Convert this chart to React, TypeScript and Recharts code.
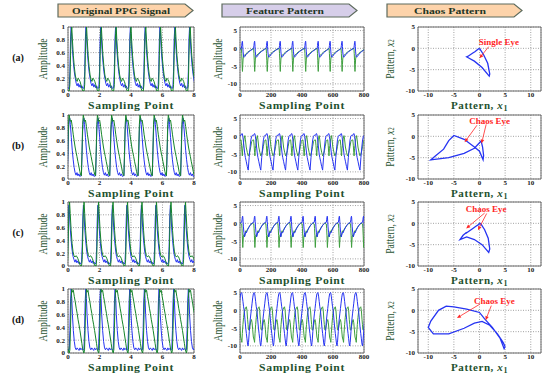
import React from 'react';
import {
  LineChart,
  Line,
  XAxis,
  YAxis,
  CartesianGrid,
  ReferenceArea,
  ReferenceLine,
  ReferenceDot,
  Label,
} from 'recharts';

type Pt = { x: number; y: number };

const SERIF = '"Liberation Serif", "DejaVu Serif", serif';
const BLUE = '#2634f2';
const GREEN_DARK = '#16852a';
const GREEN = '#3e9e3e';
const TITLE_GREEN = '#1f5230';
const RED = '#ff2626';

const rowTops = [27, 115, 202, 289];
const rowNames = ['(a)', '(b)', '(c)', '(d)'];
const headerNames = ['Original PPG Signal', 'Feature Pattern', 'Chaos Pattern'];
const headerLeft = [58, 222, 387];
const headerFill = ['#fdd3aa', '#d6cee9', '#fdd3aa'];
const headerTextLen = [98, 78, 72];

// ---- original PPG signal: one beat, sampled at these phases, placed at each beat onset
const ppgPhase = [0, 0.04, 0.08, 0.12, 0.16, 0.2, 0.26, 0.32, 0.38, 0.44, 0.5, 0.56, 0.62, 0.68, 0.74, 0.8, 0.86];

const ppgOnsetsA = [-0.86, 0.08, 1.02, 1.96, 2.9, 3.84, 4.78, 5.72, 6.66, 7.6];
const ppgBlueA = [0.05, 0.3, 0.8, 1, 0.85, 0.65, 0.45, 0.3, 0.2, 0.12, 0.08, 0.12, 0.06, 0.1, 0.05, 0.08, 0.04];
const ppgGreenA = [0, 0.1, 0.55, 0.9, 1, 0.8, 0.55, 0.38, 0.25, 0.18, 0.15, 0.2, 0.18, 0.15, 0.1, 0.04, 0];

const ppgOnsetsB = [-0.95, -0.05, 0.85, 1.75, 2.65, 3.55, 4.45, 5.35, 6.25, 7.15];
const ppgBlueB = [0.05, 0.35, 0.75, 0.9, 0.95, 0.85, 0.65, 0.45, 0.3, 0.18, 0.1, 0.06, 0.1, 0.05, 0.08, 0.04, 0.05];
const ppgGreenB = [0.05, 0.45, 0.85, 1, 0.95, 0.9, 0.92, 0.82, 0.7, 0.6, 0.5, 0.42, 0.35, 0.27, 0.2, 0.12, 0.06];

const ppgOnsetsC = [-0.98, -0.06, 0.86, 1.78, 2.7, 3.62, 4.54, 5.46, 6.38, 7.3];
const ppgBlueC = [0.05, 0.3, 0.75, 0.95, 0.8, 0.6, 0.4, 0.25, 0.15, 0.1, 0.06, 0.1, 0.05, 0.08, 0.04, 0.06, 0.03];
const ppgGreenC = [0, 0.1, 0.5, 0.88, 1, 0.82, 0.55, 0.35, 0.22, 0.16, 0.14, 0.16, 0.15, 0.12, 0.08, 0.03, 0];

const ppgOnsetsD = [-0.85, 0.08, 1.01, 1.94, 2.87, 3.8, 4.73, 5.66, 6.59, 7.52];
const ppgBlueD = [0.05, 0.35, 0.8, 1, 0.85, 0.6, 0.35, 0.18, 0.08, 0.05, 0.08, 0.06, 0.04, 0.08, 0.05, 0.07, 0.05];
const ppgGreenD = [0, 0.05, 0.4, 0.85, 1, 0.95, 0.98, 0.88, 0.8, 0.7, 0.62, 0.52, 0.44, 0.35, 0.25, 0.15, 0.05];

// ---- feature pattern: one cycle per panel, x1 (blue) and x2 (green)
const featPhaseA = [0, 2, 4, 6, 7, 9, 11, 14, 18, 22, 30, 40, 50, 60, 70];
const featOnsetsA = [-71, 9, 88, 169, 253, 334, 417, 498, 575, 652, 735];
const featBlueA = [0, 0.8, 1.6, 2.0, 1.9, 0.5, -1.0, -2.2, -2.5, -2.3, -1.8, -1.3, -0.9, -0.6, -0.3];
const featGreenA = [0, -1.5, -3.5, -6.0, -6.5, -4.5, -3.0, -2.2, -2.0, -1.9, -1.5, -1.1, -0.8, -0.5, -0.2];

const featPhaseB = [0, 3, 6, 8, 11, 14, 19, 24, 28, 33, 40, 46, 52, 58, 63, 68, 73];
const featOnsetsB = [-73, 7, 88, 167, 248, 327, 406, 487, 566, 647, 728];
const featBlueB = [0.3, 0.6, 0.8, 0.7, 0, -1, -3, -5, -6, -7, -8.5, -9.5, -6, -3, -1, 0, 0.3];
const featGreenB = [-1, -2.5, -4.5, -5.5, -3.5, -2.5, -0.7, 0.2, -1, -3, -4.5, -5.5, -5, -4, -2.8, -1.5, -1.1];

const featPhaseC = [0, 2, 4, 6, 7, 9, 11, 14, 18, 22, 26, 30, 36, 44, 52, 60, 68];
const featOnsetsC = [-67, 11, 89, 167, 245, 323, 401, 479, 557, 635, 713, 791];
const featBlueC = [0.3, 1, 1.7, 2, 1.8, 0.5, -1, -2.5, -3.8, -3.2, -2.5, -2.7, -2, -1.3, -0.7, -0.2, 0.1];
const featGreenC = [-0.2, -1.5, -3.5, -6, -6.8, -5, -3.8, -3.2, -3.8, -2.8, -2.1, -2.4, -1.8, -1.2, -0.7, -0.3, 0];

const featPhaseD = [0, 2, 5, 9, 13, 17, 22, 27, 31, 35, 39, 42, 45, 50, 55, 60, 64, 68, 72, 76];
const featOnsetsD = [-72, 10, 92, 174, 256, 338, 420, 502, 584, 666, 748];
const featBlueD = [5, 4.8, 4, 2.5, 1, 0, -2.5, -5, -6.5, -8, -9.5, -10, -9, -6, -3, -1, 0.5, 2, 3.5, 4.6];
const featGreenD = [-8.5, -9, -6.5, -4, -2, -0.5, 0.3, 0.8, 1, 0, -2.5, -4, -5.5, -5.5, -4.2, -3, -2.6, -3.5, -5.5, -7.5];

// annotation text / arrow positions (data units of each chaos panel)
const eyeText = ['Single Eye', 'Chaos Eye', 'Chaos Eye', 'Chaos Eye'];
const eyeTextPos = [[3.8, 1.6], [2.0, 3.6], [1.3, 3.5], [2.9, 2.3]];
const eyeArrows = [
  [[1.8, 0.4, 0, -2.3]],
  [[-0.5, 2.6, -2.9, -1.4], [1.3, 2.8, 0.4, -1.7]],
  [[1.0, 2.4, -2.6, -1.2], [1.4, 2.3, -0.3, -1.6]],
  [[0, 1.4, -4.4, -1.8], [2.3, 1.1, 1.2, -2.3]],
];

function tile(onsets: number[], phase: number[], vals: number[]): Pt[] {
  const pts: Pt[] = [];
  onsets.forEach((o) => phase.forEach((p, i) => pts.push({ x: o + p, y: vals[i] })));
  return pts;
}

function orbit(xs: number[], ys: number[]): Pt[] {
  const pts = xs.map((v, i) => ({ x: v, y: ys[i] }));
  return [...pts, pts[0]];
}

const ppg = [
  [tile(ppgOnsetsA, ppgPhase, ppgBlueA), tile(ppgOnsetsA, ppgPhase, ppgGreenA)],
  [tile(ppgOnsetsB, ppgPhase, ppgBlueB), tile(ppgOnsetsB, ppgPhase, ppgGreenB)],
  [tile(ppgOnsetsC, ppgPhase, ppgBlueC), tile(ppgOnsetsC, ppgPhase, ppgGreenC)],
  [tile(ppgOnsetsD, ppgPhase, ppgBlueD), tile(ppgOnsetsD, ppgPhase, ppgGreenD)],
];

const feat = [
  [tile(featOnsetsA, featPhaseA, featBlueA), tile(featOnsetsA, featPhaseA, featGreenA)],
  [tile(featOnsetsB, featPhaseB, featBlueB), tile(featOnsetsB, featPhaseB, featGreenB)],
  [tile(featOnsetsC, featPhaseC, featBlueC), tile(featOnsetsC, featPhaseC, featGreenC)],
  [tile(featOnsetsD, featPhaseD, featBlueD), tile(featOnsetsD, featPhaseD, featGreenD)],
];

const chaos = [
  orbit(featBlueA, featGreenA),
  orbit(featBlueB, featGreenB),
  orbit(featBlueC, featGreenC),
  orbit(featBlueD, featGreenD),
];

const tickStyle = { fontSize: 7, fontWeight: 700, fill: '#1a1a1a', fontFamily: SERIF };

function Arrow(props: any) {
  const { x1, y1, x2, y2 } = props;
  const a = Math.atan2(y2 - y1, x2 - x1);
  const bx = x2 - 4 * Math.cos(a);
  const by = y2 - 4 * Math.sin(a);
  const nx = -Math.sin(a) * 1.8;
  const ny = Math.cos(a) * 1.8;
  return (
    <g>
      <line x1={x1} y1={y1} x2={bx} y2={by} stroke={RED} strokeWidth={0.8} />
      <polygon points={`${x2},${y2} ${bx + nx},${by + ny} ${bx - nx},${by - ny}`} fill={RED} />
    </g>
  );
}

const MT = 4;
const XH = 22;

interface PlotProps {
  left: number;
  top: number;
  w: number;
  h: number;
  yw: number;
  mr: number;
  xDomain: [number, number];
  yDomain: [number, number];
  xTicks: number[];
  yTicks: number[];
  series: { data: Pt[]; color: string; width: number }[];
  xTitle: React.ReactNode;
  xTitleLen?: number;
  yTitle: React.ReactNode;
  yTitleX: number;
  extras?: React.ReactNode;
}

function Plot(p: PlotProps) {
  const chartLeft = p.left - p.yw;
  const cw = p.yw + p.w + p.mr;
  const ch = MT + p.h + XH;
  return (
    <div style={{ position: 'absolute', left: chartLeft, top: p.top - MT }}>
      <LineChart width={cw} height={ch} margin={{ top: MT, right: p.mr, bottom: 0, left: 0 }}>
        <CartesianGrid stroke="#8a8a8a" strokeDasharray="1 1.5" strokeWidth={0.8} />
        <XAxis
          type="number"
          dataKey="x"
          domain={p.xDomain}
          ticks={p.xTicks}
          interval={0}
          allowDataOverflow
          height={XH}
          tickSize={0}
          tickMargin={1}
          axisLine={false}
          tickLine={false}
          tick={tickStyle}
        >
          <Label
            content={() => (
              <text
                x={p.yw + p.w / 2}
                y={MT + p.h + 17.5}
                textAnchor="middle"
                fontFamily={SERIF}
                fontWeight={700}
                fontSize={11}
                fill={TITLE_GREEN}
                letterSpacing={0.6}
                textLength={p.xTitleLen}
                lengthAdjust="spacingAndGlyphs"
              >
                {p.xTitle}
              </text>
            )}
          />
        </XAxis>
        <YAxis
          type="number"
          domain={p.yDomain}
          ticks={p.yTicks}
          interval={0}
          allowDataOverflow
          width={p.yw}
          tickSize={0}
          tickMargin={3}
          axisLine={false}
          tickLine={false}
          tick={tickStyle}
        >
          <Label
            content={() => (
              <text
                transform={`translate(${p.yTitleX - chartLeft},${MT + p.h / 2}) rotate(-90) scale(0.8,1)`}
                textAnchor="middle"
                dominantBaseline="central"
                fontFamily={SERIF}
                fontSize={12}
                fill={TITLE_GREEN}
              >
                {p.yTitle}
              </text>
            )}
          />
        </YAxis>
        {p.series.map((s, i) => (
          <Line
            key={i}
            data={s.data}
            dataKey="y"
            type="linear"
            stroke={s.color}
            strokeWidth={s.width}
            dot={false}
            isAnimationActive={false}
          />
        ))}
        <ReferenceArea
          x1={p.xDomain[0]}
          x2={p.xDomain[1]}
          y1={p.yDomain[0]}
          y2={p.yDomain[1]}
          fill="none"
          stroke="#6a6a6a"
          strokeWidth={1}
          ifOverflow="visible"
        />
        {p.extras}
      </LineChart>
    </div>
  );
}

const patternX1 = (
  <>
    Pattern, <tspan fontStyle="italic">x</tspan>
    <tspan fontSize={8} dy={2}>1</tspan>
  </>
);
const patternX2 = (
  <>
    Pattern, <tspan fontStyle="italic">x</tspan>
    <tspan fontSize={8} dy={2}>2</tspan>
  </>
);

export default function App() {
  return (
    <div style={{ position: 'absolute', left: 0, top: 0, width: 550, height: 376, background: '#fff', overflow: 'hidden' }}>
      <svg width={550} height={376} style={{ position: 'absolute', left: 0, top: 0 }}>
        {headerNames.map((name, i) => {
          const x = headerLeft[i];
          return (
            <g key={name}>
              <polygon
                points={`${x},4 ${x + 127},4 ${x + 135},10.5 ${x + 127},17 ${x},17`}
                fill={headerFill[i]}
                stroke="#5d6b5d"
                strokeWidth={1.2}
              />
              <text
                x={x + 63}
                y={13.5}
                textAnchor="middle"
                fontFamily={SERIF}
                fontWeight={700}
                fontSize={9}
                fill="#1f3626"
                textLength={headerTextLen[i]}
                lengthAdjust="spacingAndGlyphs"
              >
                {name}
              </text>
            </g>
          );
        })}
        {rowNames.map((r, i) => (
          <text
            key={r}
            x={18}
            y={rowTops[i] + 34}
            textAnchor="middle"
            fontFamily={SERIF}
            fontWeight={700}
            fontSize={10}
            fill="#111"
          >
            {r}
          </text>
        ))}
      </svg>
      {rowTops.map((top, r) => (
        <React.Fragment key={r}>
          <Plot
            left={68}
            top={top}
            w={126}
            h={64}
            yw={34}
            mr={5}
            xDomain={[0, 8]}
            yDomain={[0, 1]}
            xTicks={[0, 2, 4, 6, 8]}
            yTicks={[0, 0.2, 0.4, 0.6, 0.8, 1]}
            series={[
              { data: ppg[r][0], color: BLUE, width: 1 },
              { data: ppg[r][1], color: GREEN_DARK, width: 1 },
            ]}
            xTitle="Sampling Point"
            xTitleLen={86}
            yTitle="Amplitude"
            yTitleX={43}
          />
          <Plot
            left={240}
            top={top}
            w={124}
            h={64}
            yw={30}
            mr={9}
            xDomain={[0, 800]}
            yDomain={[-12, 6]}
            xTicks={[0, 200, 400, 600, 800]}
            yTicks={[-10, -5, 0, 5]}
            series={[
              { data: feat[r][1], color: GREEN, width: 1 },
              { data: feat[r][0], color: BLUE, width: 1 },
            ]}
            xTitle="Sampling Point"
            xTitleLen={86}
            yTitle="Amplitude"
            yTitleX={218}
          />
          <Plot
            left={418}
            top={top}
            w={123}
            h={64}
            yw={34}
            mr={6}
            xDomain={[-12, 12]}
            yDomain={[-10, 5]}
            xTicks={[-10, -5, 0, 5, 10]}
            yTicks={[-10, -5, 0, 5]}
            series={[{ data: chaos[r], color: BLUE, width: 1.3 }]}
            xTitle={patternX1}
            yTitle={patternX2}
            yTitleX={390}
            extras={
              <>
                {eyeArrows[r].map((a, k) => (
                  <ReferenceLine
                    key={k}
                    segment={[
                      { x: a[0], y: a[1] },
                      { x: a[2], y: a[3] },
                    ]}
                    shape={Arrow}
                    ifOverflow="visible"
                  />
                ))}
                <ReferenceDot
                  x={eyeTextPos[r][0]}
                  y={eyeTextPos[r][1]}
                  r={1}
                  fill="none"
                  stroke="none"
                  ifOverflow="visible"
                  label={{
                    value: eyeText[r],
                    position: 'center',
                    fill: RED,
                    fontSize: 9,
                    fontWeight: 700,
                    fontFamily: SERIF,
                  }}
                />
              </>
            }
          />
        </React.Fragment>
      ))}
    </div>
  );
}
